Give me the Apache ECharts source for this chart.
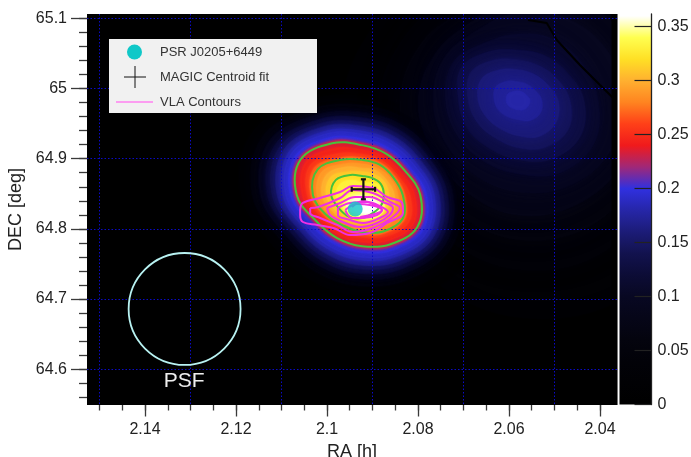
<!DOCTYPE html>
<html><head><meta charset="utf-8">
<style>html,body{margin:0;padding:0;background:#fff}#c{width:691px;height:457px}</style>
<script src="https://cdn.jsdelivr.net/npm/echarts@6/dist/echarts.min.js"></script>
</head><body><div id="c"></div>
<script>
// axis ticks
const raMajor=[2.14,2.12,2.10,2.08,2.06,2.04];
const raMinor=[2.15,2.145,2.14,2.135,2.13,2.125,2.12,2.115,2.11,2.105,2.10,2.095,2.09,2.085,2.08,2.075,2.07,2.065,2.06,2.055,2.05,2.045,2.04];
const raGrid=[2.15,2.13,2.11,2.09,2.07,2.05];
const decMajor=[65.1,65,64.9,64.8,64.7,64.6];
const decMinor=[65.1,65.08,65.06,65.04,65.02,65,64.98,64.96,64.94,64.92,64.9,64.88,64.86,64.84,64.82,64.8,64.78,64.76,64.74,64.72,64.7,64.68,64.66,64.64,64.62,64.6,64.58,64.56];
const barTicks=[0,0.05,0.1,0.15,0.2,0.25,0.3,0.35];
const palette=['#000000','#010104','#020208','#04040e','#060618','#080822','#0c0c36','#12124e','#1c1c78','#2626a8','#3030e0','#a02878','#f01a1c','#ff4018','#ff8420','#ffb030','#ffe025','#ffff50','#ffffff'];

// significance map, read as iso-level outlines: radius (millidegrees on sky) at bearings 0,30..330
const bearings=[0,30,60,90,120,150,180,210,240,270,300,330];
const mainCentre=[2.0923,64.8483];
const mainLevels=[0.03,0.06,0.09,0.12,0.14,0.16,0.18,0.19,0.2,0.21,0.225,0.235,0.245,0.255,0.27,0.28,0.29,0.30,0.31,0.32,0.33];
const mainRadii=[
[154,141,139,142,156,180,172,146,142,144,152,162],
[140,127,125,128,142,165,157,132,128,130,138,148],
[130,117,115,118,132,153,145,122,118,120,128,138],
[122,109,107,110,124,143,135,114,110,112,120,130],
[116,103,101,104,118,136,128,108,104,106,114,124],
[110,97,95,98,112,129,121,102,98,100,108,118],
[103,90,88,91,105,121,113,95,91,93,101,111],
[99,86,84,87,101,117,109,91,87,89,97,107],
[92,79,77,80,94,110,102,84,80,82,90,100],
[87,74,72,75,89,105,97,79,75,77,85,95],
[85,73,71,74,88,103,95,78,74,75,84,94],
[83,70,68,71,85,101,93,75,71,73,81,91],
[75,64,63,64,77,93,85,71,66,67,75,84],
[68,58,57,58,68,85,78,66,60,60,68,77],
[61,54,53,53,61,78,73,61,54,56,63,70],
[58,51,50,50,58,73,70,58,51,53,60,67],
[51,47,44,44,51,66,64,54,47,48,53,58],
[46,41,40,38,46,58,57,48,44,43,46,50],
[38,37,34,33,38,51,51,44,40,38,37,41],
[31,31,28,27,33,43,44,38,36,33,30,31],
[30,28,20,17,24,34,37,34,34,33,30,30]];
const peakCentre=[2.0916,64.8312];
const peakLevels=[0.34,0.35,0.357,0.36];
const peakRadii=[
[28,25,21,19,24,30,32,22,18,18,19,24],
[23,21,17,15,19,25,27,18,14,14,15,20],
[19,17,11,10,14,20,21,14,10,10,11,16],
[14,12,9,8,10,14,15,10,8,8,9,12]];
const lobeCentre=[2.05802,64.9836];
const lobeLevels=[0.02,0.04,0.06,0.08,0.095,0.11,0.13,0.145,0.16,0.172,0.18];
const lobeRadii=[
[250,260,280,250,220,230,250,260,280,310,320,290],
[207,214,228,199,178,185,199,207,221,242,249,228],
[185,178,178,165,150,160,168,171,182,199,207,199],
[180,175,170,150,130,135,142,142,150,164,171,175],
[150,145,135,125,115,121,121,120,123,131,142,150],
[114,105,100,94,94,107,103,100,100,105,120,125],
[94,80,74,71,80,93,85,83,80,85,97,103],
[74,63,57,57,66,78,71,66,63,68,78,83],
[57,47,43,43,50,60,57,51,48,51,60,63],
[34,28,26,26,31,37,34,31,28,28,34,37],
[17,14,13,13,14,17,17,16,14,14,16,17]];
// green significance contours
const greenRadii=[
[83,70,68,71,85,101,93,75,71,73,81,91],
[58,51,50,50,58,73,70,58,51,53,60,67],
[31,31,28,27,33,43,44,38,36,33,30,31]];
// VLA contours [RA, DEC]
const vla1=[[2.1059,64.8269],[2.1053,64.8369],[2.1015,64.8440],[2.0971,64.8526],[2.0943,64.8611],[2.0899,64.8583],[2.0868,64.8454],[2.0835,64.8369],[2.0833,64.8227],[2.0868,64.8084],[2.0906,64.7941],[2.0949,64.7913],[2.0986,64.8013],[2.1021,64.8056],[2.1053,64.8098],[2.1059,64.8198],[2.1059,64.8269]];
const vla2=[[2.1037,64.8298],[2.1019,64.8312],[2.0971,64.8440],[2.0943,64.8554],[2.0899,64.8511],[2.0862,64.8383],[2.0840,64.8298],[2.0858,64.8155],[2.0899,64.8013],[2.0943,64.7956],[2.0978,64.8056],[2.1015,64.8155],[2.1037,64.8227],[2.1037,64.8298]];
const vla3=[[2.1000,64.8298],[2.0971,64.8369],[2.0938,64.8454],[2.0906,64.8454],[2.0877,64.8383],[2.0855,64.8298],[2.0862,64.8198],[2.0890,64.8084],[2.0927,64.8027],[2.0965,64.8098],[2.0993,64.8198],[2.1000,64.8298]];
const vla4=[[2.0976,64.8298],[2.0949,64.8369],[2.0912,64.8383],[2.0884,64.8326],[2.0866,64.8241],[2.0884,64.8155],[2.0921,64.8084],[2.0949,64.8127],[2.0976,64.8198],[2.0976,64.8298]];
const vla5=[[2.0960,64.8269],[2.0934,64.8355],[2.0906,64.8340],[2.0879,64.8269],[2.0890,64.8198],[2.0921,64.8155],[2.0945,64.8155],[2.0960,64.8269]];
const vla6=[[2.0945,64.8312],[2.0921,64.8397],[2.0895,64.8340],[2.0879,64.8269],[2.0895,64.8212],[2.0927,64.8170]];
const vlaContours=[vla1,vla2,vla3,vla4,vla5,vla6];
// points
const pulsar=[2.0938,64.8283];
const centroid=[2.0920,64.8564], centroidErr=[0.00257,0.0142];
const psfCentre=[2.1313,64.6859], psfRadiusRA=0.0123, psfLabelAt=[2.1314,64.5833];
// artefact streak in the map, and the empty edge column
const streak=[[2.0558,65.0976],[2.0517,65.0933],[2.0495,65.0691],[2.0444,65.0335],[2.04,65.005],[2.0371,64.9865]];
const edge=[[2.0368,65.1061],[2.0368,64.5491]];
const RA_PER_DEG=0.1543; // RA hours per sky degree at this declination

function ring(centre,radii){
  return radii.map((r,i)=>{const t=bearings[i]*Math.PI/180;
    return [centre[0]-r*0.001*RA_PER_DEG*Math.cos(t),centre[1]+r*0.001*Math.sin(t)];});
}
const rings=[];
mainLevels.forEach((l,i)=>rings.push({l,blur:l<0.2?8:3,pts:ring(mainCentre,mainRadii[i])}));
peakLevels.forEach((l,i)=>rings.push({l,blur:5,pts:ring(peakCentre,peakRadii[i])}));
lobeLevels.forEach((l,i)=>rings.push({l,blur:18,pts:ring(lobeCentre,lobeRadii[i])}));
rings.sort((a,b)=>a.l-b.l);
const greens=greenRadii.map(r=>ring(mainCentre,r));
const SMOOTH=0.38;

const font='"Liberation Sans",Arial,sans-serif';
const tickCol='#3a3a3a';
const xBase={type:'value',inverse:true,min:2.03626,max:2.15275,position:'bottom',gridIndex:0,z:3,
  axisLine:{show:false},axisLabel:{show:false},axisTick:{show:false},splitLine:{show:false}};
const yBase={type:'value',min:64.5491,max:65.1061,position:'left',gridIndex:0,z:3,
  axisLine:{show:false},axisLabel:{show:false},axisTick:{show:false},splitLine:{show:false}};
const dotted={show:true,lineStyle:{color:'#0a0ac8',width:1,type:[1.5,2]}};

const option={
  animation:false,backgroundColor:'#fff',
  grid:[{left:87,top:14,width:530,height:391,show:true,backgroundColor:'#000',borderWidth:0,outerBoundsMode:'none',containLabel:false},
        {left:619.5,top:14,width:32,height:390.5,show:false,outerBoundsMode:'none',containLabel:false}],
  visualMap:{show:false,type:'continuous',min:0,max:0.36,dimension:0,seriesIndex:[0],inRange:{color:palette}},
  xAxis:[
    Object.assign({},xBase,{axisTick:{show:true,length:11.5,customValues:raMajor,lineStyle:{color:tickCol,width:1.3}},
      axisLabel:{show:true,customValues:raMajor,margin:17,fontSize:16,color:'#222',fontFamily:font,formatter:v=>String(+v.toFixed(2))},
      name:'RA [h]',nameLocation:'middle',nameGap:35,nameTextStyle:{fontSize:18,color:'#222',fontFamily:font}}),
    Object.assign({},xBase,{axisTick:{show:true,length:5.5,customValues:raMinor,lineStyle:{color:tickCol,width:1.3}}}),
    Object.assign({},xBase,{axisTick:{show:false,customValues:raGrid},splitLine:dotted}),
    {type:'value',gridIndex:1,min:0,max:1,show:false}
  ],
  yAxis:[
    Object.assign({},yBase,{axisTick:{show:true,length:16,customValues:decMajor,lineStyle:{color:tickCol,width:1.3}},
      axisLabel:{show:true,customValues:decMajor,margin:20,fontSize:16,color:'#222',fontFamily:font,formatter:v=>String(+v.toFixed(1))},
      name:'DEC [deg]',nameLocation:'middle',nameGap:58,nameRotate:90,nameTextStyle:{fontSize:18,color:'#222',fontFamily:font}}),
    Object.assign({},yBase,{axisTick:{show:true,length:8,customValues:decMinor,lineStyle:{color:tickCol,width:1.3}}}),
    Object.assign({},yBase,{axisTick:{show:false,customValues:decMajor},splitLine:dotted}),
    {type:'value',gridIndex:1,min:0,max:0.3618,position:'right',z:3,
      axisLine:{show:true,onZero:false,lineStyle:{color:'#222',width:1.3}},
      axisTick:{show:true,inside:true,length:17,customValues:barTicks,lineStyle:{color:'#222',width:1.2}},
      axisLabel:{show:true,customValues:barTicks,margin:6,fontSize:16,color:'#222',fontFamily:font,formatter:v=>String(+v.toFixed(2))},
      splitLine:{show:false}}
  ],
  series:[
    {type:'custom',name:'map',z:1,clip:true,xAxisIndex:0,yAxisIndex:0,coordinateSystem:'cartesian2d',
     encode:{x:1,y:2},
     data:rings.map((r,i)=>[r.l,r.pts[0][0],r.pts[0][1],i]),
     renderItem(params,api){
       const r=rings[params.dataIndex], c=api.visual('color');
       return {type:'polygon',shape:{points:r.pts.map(p=>api.coord(p)),smooth:SMOOTH},
         style:{fill:c,stroke:c,lineWidth:0.5,shadowBlur:r.blur,shadowColor:c}};
     }},
    {type:'custom',name:'colorbar',z:1,xAxisIndex:3,yAxisIndex:3,coordinateSystem:'cartesian2d',
     encode:{y:0},data:[[0],[0.36]],
     renderItem(params,api){
       if(params.dataIndex) return null;
       const a=api.coord([0,0.3618]), b=api.coord([1,0]);
       return {type:'rect',shape:{x:a[0],y:a[1],width:b[0]-a[0],height:b[1]-a[1]},
         style:{fill:{type:'linear',x:0,y:1,x2:0,y2:0,colorStops:palette.map((c,i)=>({offset:i/(palette.length-1)*0.36/0.3618,color:c}))}}};
     }},
    {type:'line',name:'streak',z:1,xAxisIndex:0,yAxisIndex:0,data:streak,showSymbol:false,silent:true,lineStyle:{color:'#000',width:2}},
    {type:'line',name:'edge',z:1,xAxisIndex:0,yAxisIndex:0,data:edge,showSymbol:false,silent:true,clip:true,lineStyle:{color:'#000',width:6,cap:'butt'}},
    ...greens.map((g,i)=>({type:'custom',name:'green'+i,z:5,xAxisIndex:0,yAxisIndex:0,coordinateSystem:'cartesian2d',
      encode:{x:0,y:1},data:g,
      renderItem(params,api){ if(params.dataIndex) return null;
        return {type:'polygon',shape:{points:g.map(p=>api.coord(p)),smooth:SMOOTH},style:{fill:'none',stroke:'#46c23c',lineWidth:2}};
      }})),
    ...vlaContours.map(v=>({type:'line',z:6,xAxisIndex:0,yAxisIndex:0,data:v,showSymbol:false,smooth:0.4,silent:true,
      lineStyle:{color:'#f030e4',width:2}})),
    {type:'scatter',name:'PSR J0205+6449',z:7,xAxisIndex:0,yAxisIndex:0,data:[pulsar],symbolSize:15,itemStyle:{color:'#10c8c8'}},
    {type:'custom',name:'MAGIC Centroid fit',z:8,xAxisIndex:0,yAxisIndex:0,coordinateSystem:'cartesian2d',encode:{x:0,y:1},
      data:[centroid],
      renderItem(params,api){
        const l=api.coord([centroid[0]+centroidErr[0],centroid[1]]),r=api.coord([centroid[0]-centroidErr[0],centroid[1]]);
        const t=api.coord([centroid[0],centroid[1]+centroidErr[1]]),b=api.coord([centroid[0],centroid[1]-centroidErr[1]]);
        const st={stroke:'#111',lineWidth:2.2,fill:'none'},cap=2.5;
        const ln=(a,c,d,e)=>({type:'line',shape:{x1:a,y1:c,x2:d,y2:e},style:st});
        return {type:'group',children:[ln(l[0],l[1],r[0],r[1]),ln(t[0],t[1],b[0],b[1]),
          ln(l[0],l[1]-cap,l[0],l[1]+cap),ln(r[0],r[1]-cap,r[0],r[1]+cap),
          ln(t[0]-cap,t[1],t[0]+cap,t[1]),ln(b[0]-cap,b[1],b[0]+cap,b[1])]};
      }},
    {type:'custom',name:'PSF',z:6,xAxisIndex:0,yAxisIndex:0,coordinateSystem:'cartesian2d',encode:{x:0,y:1},
      data:[psfCentre],
      renderItem(params,api){
        const c=api.coord(psfCentre), r=api.size([psfRadiusRA,0])[0], t=api.coord(psfLabelAt);
        return {type:'group',children:[
          {type:'circle',shape:{cx:c[0],cy:c[1],r},style:{fill:'none',stroke:'#b8f2f2',lineWidth:1.8}},
          {type:'text',x:t[0],y:t[1],style:{text:'PSF',fill:'#eeeeee',font:'21px '+font,align:'center',verticalAlign:'middle'}}
        ]};
      }}
  ],
  graphic:[
    {type:'rect',z:20,shape:{x:109,y:39,width:208,height:74},style:{fill:'#f1f1f1'}},
    {type:'circle',z:21,shape:{cx:134.5,cy:52,r:7.5},style:{fill:'#10c8c8'}},
    {type:'line',z:21,shape:{x1:124,y1:77,x2:146,y2:77},style:{stroke:'#111',lineWidth:1}},
    {type:'line',z:21,shape:{x1:135,y1:66,x2:135,y2:88},style:{stroke:'#111',lineWidth:1}},
    {type:'line',z:21,shape:{x1:116,y1:102,x2:153,y2:102},style:{stroke:'#ff80f0',lineWidth:1.5}},
    {type:'text',z:21,x:160,y:52,style:{text:'PSR J0205+6449',fill:'#333',font:'13px '+font,verticalAlign:'middle'}},
    {type:'text',z:21,x:160,y:77,style:{text:'MAGIC Centroid fit',fill:'#333',font:'13px '+font,verticalAlign:'middle'}},
    {type:'text',z:21,x:160,y:102,style:{text:'VLA Contours',fill:'#333',font:'13px '+font,verticalAlign:'middle'}}
  ]
};
const chart=echarts.init(document.getElementById('c'),null,{renderer:'canvas'});
chart.setOption(option);
</script></body></html>
